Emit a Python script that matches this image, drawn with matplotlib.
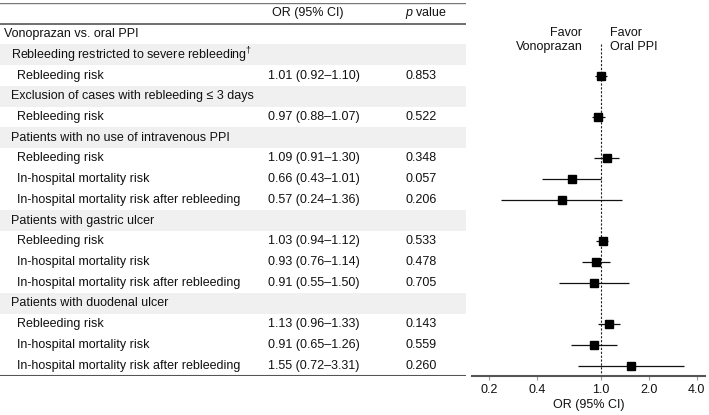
import numpy as np
import matplotlib
matplotlib.use('Agg')
import matplotlib.pyplot as plt

plt.rcParams['font.family'] = ['Liberation Sans', 'DejaVu Sans']
plt.rcParams['mathtext.fontset'] = 'custom'
plt.rcParams['mathtext.rm'] = 'Liberation Sans'
plt.rcParams['mathtext.it'] = 'Liberation Sans:italic'

# filas de la tabla: texto, nivel (0 titulo, 1 grupo gris, 2 resultado)
etiquetas = ['Vonoprazan vs. oral PPI',
             r'Rebleeding restricted to severe rebleeding$^{\dagger}$',
             'Rebleeding risk',
             'Exclusion of cases with rebleeding ≤ 3 days',
             'Rebleeding risk',
             'Patients with no use of intravenous PPI',
             'Rebleeding risk',
             'In-hospital mortality risk',
             'In-hospital mortality risk after rebleeding',
             'Patients with gastric ulcer',
             'Rebleeding risk',
             'In-hospital mortality risk',
             'In-hospital mortality risk after rebleeding',
             'Patients with duodenal ulcer',
             'Rebleeding risk',
             'In-hospital mortality risk',
             'In-hospital mortality risk after rebleeding']
niveles = [0, 1, 2, 1, 2, 1, 2, 2, 2, 1, 2, 2, 2, 1, 2, 2, 2]

# resultados (fila, OR, IC inferior, IC superior, p)
filas_res = [2, 4, 6, 7, 8, 10, 11, 12, 14, 15, 16]
odds = [1.01, 0.97, 1.09, 0.66, 0.57, 1.03, 0.93, 0.91, 1.13, 0.91, 1.55]
ic_inf = [0.92, 0.88, 0.91, 0.43, 0.24, 0.94, 0.76, 0.55, 0.96, 0.65, 0.72]
ic_sup = [1.10, 1.07, 1.30, 1.01, 1.36, 1.12, 1.14, 1.50, 1.33, 1.26, 3.31]
valores_p = ['0.853', '0.522', '0.348', '0.057', '0.206', '0.533', '0.478',
             '0.705', '0.143', '0.559', '0.260']
ticks_x = [0.2, 0.4, 1.0, 2.0, 4.0]

W, H = 709, 415
fig = plt.figure(figsize=(W / 100, H / 100), dpi=100)
arriba = 1 - 3 / H
abajo = 1 - 376 / H
ax_t = fig.add_axes([0, abajo, 466 / W, arriba - abajo])
ax_f = fig.add_axes([472 / W, abajo, 233 / W, arriba - abajo])

n = len(etiquetas)
ylim = (n - 0.5, -1.5)
fs = 9
col_txt = '#111111'
linea = '#555555'

# tabla
ax_t.set_xlim(0, 466)
ax_t.set_ylim(*ylim)
ax_t.axis('off')
sangria = {0: 4, 1: 11, 2: 17}
for i, (txt, nv) in enumerate(zip(etiquetas, niveles)):
    if nv == 1:
        ax_t.axhspan(i - 0.5, i + 0.5, color='#f0f0f0', lw=0, zorder=0)
    ax_t.text(sangria[nv], i, txt, fontsize=fs, va='center', ha='left', color=col_txt)
for f, o, a, b, p in zip(filas_res, odds, ic_inf, ic_sup, valores_p):
    ax_t.text(268, f, f'{o:.2f} ({a:.2f}–{b:.2f})', fontsize=fs, va='center', color=col_txt)
    ax_t.text(405, f, p, fontsize=fs, va='center', color=col_txt)
ax_t.text(272, -1, 'OR (95% CI)', fontsize=fs, va='center', color=col_txt)
ax_t.text(405, -1, r'$p$ value', fontsize=fs, va='center', color=col_txt)
ax_t.axhline(-1.5, color='#777777', lw=1.0)
ax_t.axhline(-0.5, color=linea, lw=1.2)
ax_t.axhline(n - 0.5, color=linea, lw=1.5)

# forest plot
ax_f.set_xscale('log')
ax_f.set_xlim(0.157, 4.5)
ax_f.set_ylim(*ylim)
for s in ['left', 'right', 'top']:
    ax_f.spines[s].set_visible(False)
ax_f.spines['bottom'].set_color(linea)
ax_f.spines['bottom'].set_linewidth(1.5)
ax_f.set_yticks([])
ax_f.set_xticks(ticks_x)
ax_f.set_xticklabels([f'{t:.1f}' for t in ticks_x])
ax_f.minorticks_off()
ax_f.tick_params(axis='x', length=3, color='#999999', labelsize=fs, labelcolor=col_txt, pad=3)
ax_f.vlines(1.0, 0.5, n - 0.5, color='#222222', lw=0.8, linestyles=(0, (2, 1.5)))
ax_f.hlines(filas_res, ic_inf, ic_sup, color='#111111', lw=0.9)
ax_f.plot(odds, filas_res, 's', color='black', ms=5.5)
ax_f.text(0.77, 0.3, 'Favor\nVonoprazan', ha='right', va='center', fontsize=fs,
          linespacing=1.25, color=col_txt)
ax_f.text(1.15, 0.3, 'Favor\nOral PPI', ha='left', va='center', fontsize=fs,
          linespacing=1.25, color=col_txt)
ax_f.set_xlabel('OR (95% CI)', fontsize=fs, color=col_txt, labelpad=2)

fig.savefig('out.png', dpi=100)
